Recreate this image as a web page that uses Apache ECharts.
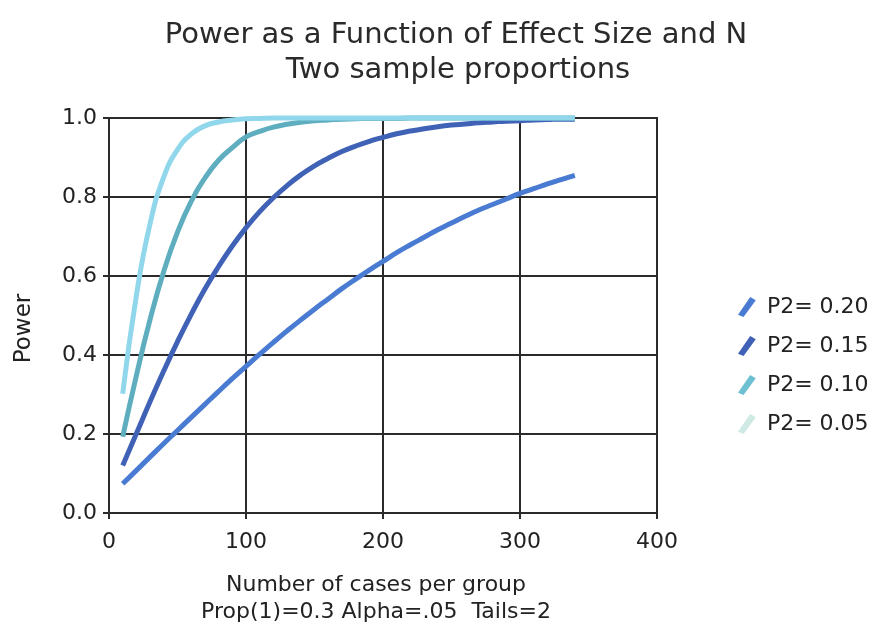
<!DOCTYPE html>
<html>
<head>
<meta charset="utf-8">
<script src="https://cdn.jsdelivr.net/npm/echarts@6/dist/echarts.min.js"></script>
<style>
    html, body { margin: 0; padding: 0; background: #fff; }
    #chart { width: 875px; height: 631px; }
</style>
</head>
<body>
<div id="chart"></div>
<script>
// cases per group
const caseCounts = [10, 20, 30, 40, 50, 60, 70, 80, 90, 100, 110, 120, 130, 140, 150, 160, 170,
    180, 190, 200, 210, 220, 230, 240, 250, 260, 270, 280, 290, 300, 310, 320, 330, 340]

const seriesNames = ['P2= 0.20', 'P2= 0.15', 'P2= 0.10', 'P2= 0.05']

const powerP20 = [0.074, 0.108, 0.142, 0.176, 0.209, 0.242, 0.275, 0.308, 0.340, 0.371, 0.402,
    0.432, 0.461, 0.489, 0.516, 0.542, 0.568, 0.592, 0.615, 0.637, 0.659, 0.679, 0.698, 0.717,
    0.734, 0.751, 0.767, 0.781, 0.795, 0.809, 0.821, 0.833, 0.844, 0.855]
const powerP15 = [0.120, 0.201, 0.282, 0.360, 0.434, 0.503, 0.567, 0.624, 0.676, 0.722, 0.763,
    0.798, 0.829, 0.856, 0.879, 0.898, 0.915, 0.929, 0.941, 0.951, 0.960, 0.967, 0.973, 0.978,
    0.982, 0.985, 0.988, 0.990, 0.992, 0.993, 0.995, 0.996, 0.997, 0.997]
const powerP10 = [0.193, 0.348, 0.490, 0.612, 0.711, 0.789, 0.848, 0.893, 0.925, 0.952, 0.966,
    0.977, 0.984, 0.989, 0.993, 0.995, 0.997, 0.998, 0.999, 0.999, 0.999, 1.0, 1.0, 1.0,
    1.0, 1.0, 1.0, 1.0, 1.0, 1.0, 1.0, 1.0, 1.0, 1.0]
const powerP05 = [0.302, 0.551, 0.733, 0.851, 0.920, 0.959, 0.980, 0.990, 0.995, 0.998, 0.999,
    1.0, 1.0, 1.0, 1.0, 1.0, 1.0, 1.0, 1.0, 1.0, 1.0, 1.0, 1.0, 1.0,
    1.0, 1.0, 1.0, 1.0, 1.0, 1.0, 1.0, 1.0, 1.0, 1.0]

const xTicks = [0, 100, 200, 300, 400]
const yTicks = [0.0, 0.2, 0.4, 0.6, 0.8, 1.0]

const lineColors = ['#4a7bd3', '#3f61b6', '#5eaebf', '#91d7ec']
const legendColors = ['#4a7bd3', '#3f61b6', '#6cc0d2', '#cfe9e4']

const allPower = [powerP20, powerP15, powerP10, powerP05]

let myChart = echarts.init(document.getElementById('chart'))
const font = 'DejaVu Sans'

let option = {
    animation: false,
    title: [
        {
            text: 'Power as a Function of Effect Size and N',
            left: 451,
            top: 16,
            textAlign: 'center',
            textStyle: { color: '#2a2a2a', fontSize: 29, fontWeight: 'normal', fontFamily: font }
        },
        {
            text: 'Two sample proportions',
            left: 453,
            top: 51,
            textAlign: 'center',
            textStyle: { color: '#2a2a2a', fontSize: 29, fontWeight: 'normal', fontFamily: font }
        }
    ],
    legend: {
        orient: 'vertical',
        left: 733,
        top: 291,
        itemWidth: 18,
        itemHeight: 20,
        itemGap: 17,
        icon: 'path://M1,18 L12,2 L17,5 L6,20 Z',
        textStyle: { color: '#222', fontSize: 22, fontFamily: font, padding: [0, 0, 0, 6] },
        data: seriesNames.map((name, i) => ({ name: name, itemStyle: { color: legendColors[i] } }))
    },
    grid: {
        left: 109,
        right: 218,
        top: 118,
        bottom: 116,
        show: true,
        borderColor: '#2b2b2b',
        borderWidth: 2
    },
    xAxis: {
        type: 'value',
        min: xTicks[0],
        max: xTicks[xTicks.length - 1],
        interval: 100,
        name: 'Number of cases per group\nProp(1)=0.3 Alpha=.05  Tails=2',
        nameLocation: 'middle',
        nameGap: 59,
        nameTextStyle: { color: '#222', fontSize: 22, fontFamily: font, lineHeight: 27, padding: [0, 14, 0, 0] },
        axisLine: { show: true, lineStyle: { color: '#2b2b2b', width: 2 } },
        axisTick: { show: true, length: 6, lineStyle: { color: '#2b2b2b', width: 2 } },
        axisLabel: { color: '#222', fontSize: 22, fontFamily: font, margin: 18 },
        splitLine: { show: true, lineStyle: { color: '#2b2b2b', width: 2 } }
    },
    yAxis: {
        type: 'value',
        min: yTicks[0],
        max: yTicks[yTicks.length - 1],
        interval: 0.2,
        name: 'Power',
        nameLocation: 'middle',
        nameGap: 73,
        nameTextStyle: { color: '#222', fontSize: 23, fontFamily: font, padding: [0, 26, 0, 0] },
        axisLine: { show: true, lineStyle: { color: '#2b2b2b', width: 2 } },
        axisTick: { show: true, length: 6, lineStyle: { color: '#2b2b2b', width: 2 } },
        axisLabel: {
            color: '#222',
            fontSize: 22,
            fontFamily: font,
            margin: 12,
            formatter: (v) => v.toFixed(1)
        },
        splitLine: { show: true, lineStyle: { color: '#2b2b2b', width: 2 } }
    },
    series: seriesNames.map((name, i) => ({
        name: name,
        type: 'line',
        smooth: true,
        symbol: 'none',
        clip: false,
        lineStyle: { color: lineColors[i], width: 5 },
        itemStyle: { color: lineColors[i] },
        data: caseCounts.map((n, j) => [n, allPower[i][j]])
    }))
}

option && myChart.setOption(option)
</script>
</body>
</html>
